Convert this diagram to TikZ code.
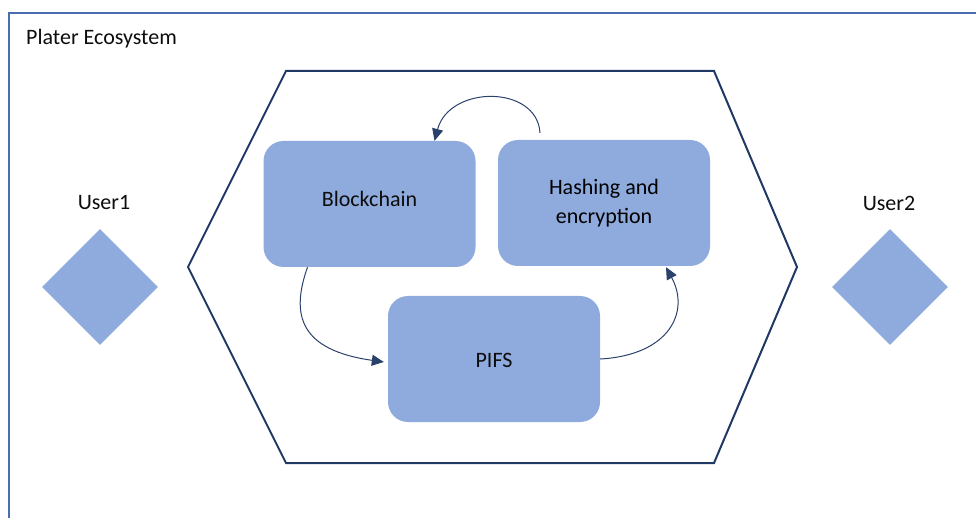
\documentclass[tikz,border=0pt]{standalone}
\usepackage{fontspec}
\setmainfont{Carlito}
\usetikzlibrary{arrows.meta,shapes.geometric}
\definecolor{boxfill}{HTML}{8FAADC}
\definecolor{navy}{HTML}{1F3864}
\definecolor{arrowcol}{HTML}{2A416C}
\definecolor{framecol}{HTML}{4A6EB0}
\tikzset{
  blockbox/.style={rectangle, rounded corners=20pt, fill=boxfill, minimum width=212pt,
    minimum height=126pt, align=center, inner sep=0pt},
  userdiamond/.style={diamond, fill=boxfill, minimum width=116pt, minimum height=116pt, inner sep=0pt},
  flow/.style={draw=arrowcol, line width=1pt, -{Triangle[length=12pt,width=11pt]}},
  lbl/.style={inner sep=0pt, text=black!95}
}
\begin{document}
\begin{tikzpicture}[x=1pt,y=-1pt,font=\fontsize{22}{29}\selectfont]
\useasboundingbox (0,0) rectangle (976,518);
% outer frame (open at right and bottom)
\draw[framecol, line width=2pt] (9,518) -- (9,13) -- (976,13);
\node[lbl, anchor=base west] (title) at (26,45) {Plater Ecosystem};
% hexagon
\draw[navy, line width=2pt, line join=miter]
  (286,71) -- (714,71) -- (797,267) -- (714,463) -- (286,463) -- (188,267) -- cycle;
% boxes
\node[blockbox] (chain) at (369.5,204) {};
\node[lbl] (chainlbl) at ([yshift=5pt]chain.center) {Blockchain};
\node[blockbox] (hash) at (604,203) {Hashing and\\encryption};
\node[blockbox] (pifs) at (494,359) {};
\node[lbl] (pifslbl) at ([yshift=-1pt]pifs.center) {PIFS};
% users
\node[userdiamond] (u1) at (100,287) {};
\node[userdiamond] (u2) at (890,287) {};
\node[lbl] (u1lbl) at (104,203) {User1};
\node[lbl] (u2lbl) at (889,203) {User2};
% connectors
\coordinate (h1) at ([xshift=-64pt,yshift=7pt]hash.north);
\draw[flow] (h1) .. controls +(-3,-48) and +(15,-56) .. ([xshift=65pt]chain.north);
\draw[flow] ([xshift=-62pt]chain.south) .. controls +(-17,48) and +(-84,-12) .. ([xshift=-4pt,yshift=-3pt]pifs.west);
\draw[flow] (pifs.east) .. controls +(70,-4) and +(24,44) .. ([xshift=62pt,yshift=-1pt]hash.south);
\end{tikzpicture}
\end{document}
